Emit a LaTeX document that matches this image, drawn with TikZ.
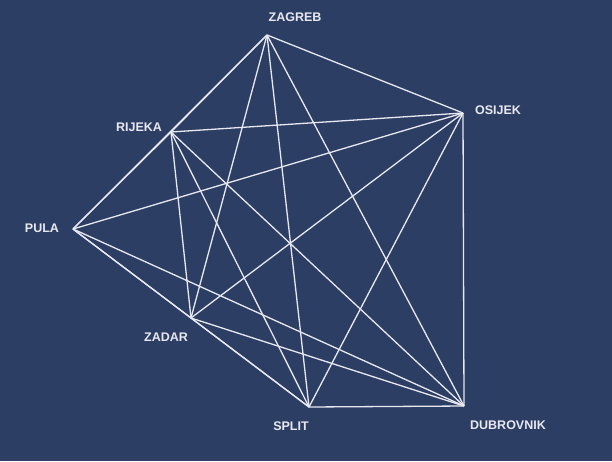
\documentclass[tikz,border=0pt]{standalone}
\usepackage{fontspec}
\setmainfont{Liberation Sans}
\usepackage{tikz}
\usetikzlibrary{positioning}
\definecolor{NightBlue}{RGB}{45, 62, 101}
\definecolor{LineWhite}{RGB}{232, 232, 240}

\begin{document}
\begin{tikzpicture}[x=1pt, y=-1pt,
    road/.style={draw=LineWhite, line width=1.3pt},
    cityname/.style={font=\fontsize{12.5}{14}\selectfont\bfseries, text=LineWhite, inner sep=0pt}]
    % Background
    \fill[NightBlue] (0, 0) rectangle (612, 461);
    \useasboundingbox (0, 0) rectangle (612, 461);

    % Cities
    \coordinate (zagreb) at (267, 35);
    \coordinate (osijek) at (463, 113);
    \coordinate (rijeka) at (171, 132);
    \coordinate (pula) at (73, 229);
    \coordinate (zadar) at (191, 318);
    \coordinate (split) at (309, 407);
    \coordinate (dubrovnik) at (464, 406);

    % Names
    \node[cityname] (zagreb-name) at (295, 17) {ZAGREB};
    \node[cityname] (osijek-name) at (498, 110) {OSIJEK};
    \node[cityname] (rijeka-name) at (139, 127) {RIJEKA};
    \node[cityname] (pula-name) at (42, 228) {PULA};
    \node[cityname] (zadar-name) at (166, 337) {ZADAR};
    \node[cityname] (split-name) at (291, 426) {SPLIT};
    \node[cityname] (dubrovnik-name) at (508, 425) {DUBROVNIK};

    % Zagreb
    \draw[road] (zagreb) -- (osijek);
    \draw[road] (zagreb) -- (rijeka);
    \draw[road] (zagreb) -- (pula);
    \draw[road] (zagreb) -- (zadar);
    \draw[road] (zagreb) -- (split);
    \draw[road] (zagreb) -- (dubrovnik);

    % Osijek
    \draw[road] (osijek) -- (rijeka);
    \draw[road] (osijek) -- (pula);
    \draw[road] (osijek) -- (zadar);
    \draw[road] (osijek) -- (split);
    \draw[road] (osijek) -- (dubrovnik);

    % Rijeka
    \draw[road] (rijeka) -- (pula);
    \draw[road] (rijeka) -- (zadar);
    \draw[road] (rijeka) -- (split);
    \draw[road] (rijeka) -- (dubrovnik);

    % Pula
    \draw[road] (pula) -- (zadar);
    \draw[road] (pula) -- (split);
    \draw[road] (pula) -- (dubrovnik);

    % Zadar, Split
    \draw[road] (zadar) -- (split);
    \draw[road] (zadar) -- (dubrovnik);
    \draw[road] (split) -- (dubrovnik);
  \end{tikzpicture}
\end{document}
